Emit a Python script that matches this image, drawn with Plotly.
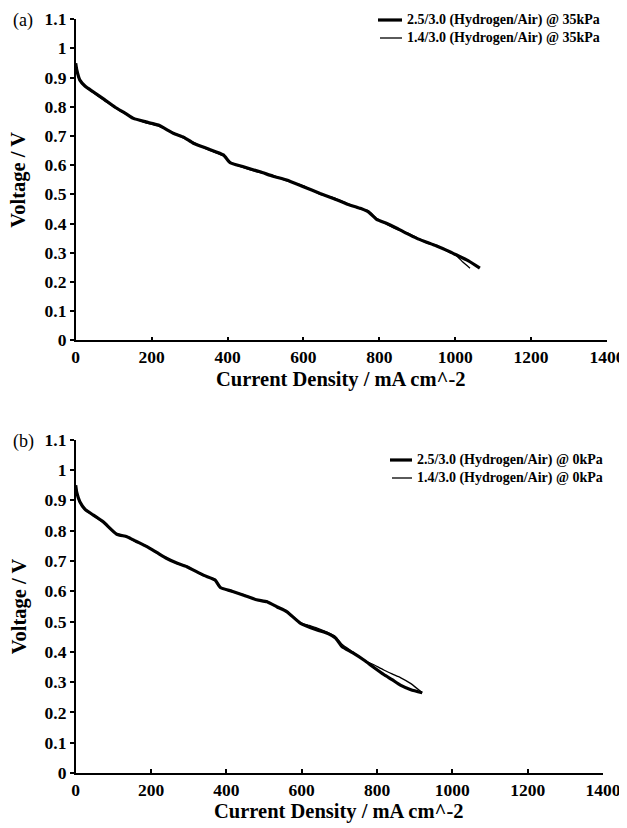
import plotly.graph_objects as go

# ---------------- data ----------------
# Panel (a): 35 kPa back-pressure
a_thick_x = [0, 3, 11, 25, 46, 75, 104, 130, 152, 185, 218, 257, 285, 310, 350, 389, 407, 440, 486, 520,
             556, 600, 644, 679, 714, 750, 771, 793, 820, 846, 872, 899, 925, 951, 978, 1004, 1035, 1065]
a_thick_y = [0.949, 0.925, 0.891, 0.870, 0.851, 0.825, 0.798, 0.778, 0.760, 0.748, 0.737, 0.709, 0.695, 0.675,
             0.655, 0.635, 0.608, 0.595, 0.577, 0.562, 0.549, 0.526, 0.503, 0.486, 0.467, 0.452, 0.440, 0.414,
             0.400, 0.384, 0.366, 0.349, 0.336, 0.323, 0.308, 0.292, 0.272, 0.247]
a_thin_x = [0, 3, 11, 25, 46, 75, 104, 130, 152, 185, 218, 257, 285, 310, 350, 389, 407, 440, 486, 520,
            556, 600, 644, 679, 714, 750, 771, 793, 820, 846, 872, 899, 925, 951, 978, 1004, 1020, 1039]
a_thin_y = [0.946, 0.920, 0.888, 0.868, 0.848, 0.822, 0.796, 0.776, 0.762, 0.745, 0.733, 0.711, 0.692, 0.678,
            0.652, 0.632, 0.611, 0.592, 0.574, 0.565, 0.546, 0.530, 0.500, 0.489, 0.470, 0.449, 0.444, 0.417,
            0.397, 0.380, 0.369, 0.352, 0.333, 0.326, 0.305, 0.289, 0.268, 0.247]

# Panel (b): 0 kPa back-pressure
b_thick_x = [0, 3, 11, 25, 47, 73, 109, 136, 160, 189, 215, 242, 270, 295, 339, 370, 384, 415, 446, 480,
             508, 535, 561, 597, 641, 670, 690, 707, 735, 765, 790, 818, 840, 862, 890, 920]
b_thick_y = [0.950, 0.925, 0.895, 0.870, 0.851, 0.829, 0.788, 0.780, 0.765, 0.747, 0.728, 0.708, 0.692, 0.681,
             0.653, 0.637, 0.612, 0.600, 0.587, 0.572, 0.565, 0.548, 0.532, 0.494, 0.472, 0.460, 0.445, 0.417,
             0.397, 0.373, 0.350, 0.325, 0.308, 0.290, 0.275, 0.265]
b_thin_x = [0, 3, 11, 25, 47, 73, 109, 136, 160, 189, 215, 242, 270, 295, 339, 370, 384, 415, 446, 480,
            508, 535, 561, 597, 620, 641, 670, 690, 707, 735, 765, 790, 818, 840, 862, 890, 920]
b_thin_y = [0.948, 0.922, 0.893, 0.868, 0.849, 0.826, 0.790, 0.778, 0.763, 0.749, 0.726, 0.710, 0.690, 0.683,
            0.651, 0.639, 0.614, 0.598, 0.589, 0.570, 0.567, 0.546, 0.534, 0.496, 0.487, 0.478, 0.463, 0.450,
            0.425, 0.400, 0.373, 0.358, 0.340, 0.327, 0.315, 0.295, 0.265]

a_names = ["2.5/3.0 (Hydrogen/Air) @ 35kPa", "1.4/3.0 (Hydrogen/Air) @ 35kPa"]
b_names = ["2.5/3.0 (Hydrogen/Air) @ 0kPa", "1.4/3.0 (Hydrogen/Air) @ 0kPa"]

x_ticks = [0, 200, 400, 600, 800, 1000, 1200, 1400]
y_ticks = [0, 0.1, 0.2, 0.3, 0.4, 0.5, 0.6, 0.7, 0.8, 0.9, 1.0, 1.1]
y_tick_text = ["0", "0.1", "0.2", "0.3", "0.4", "0.5", "0.6", "0.7", "0.8", "0.9", "1", "1.1"]

x_title = "Current Density / mA cm^-2"
y_title = "Voltage / V"

# ---------------- geometry ----------------
# the page body has an 8px margin, so the figure is drawn 8px in from the top-left corner
OFF = 8
W, H = 627 - OFF, 828 - OFF


def px(xp):
    return (xp - OFF) / W


def py(yp):
    return 1 - (yp - OFF) / H


SERIF = "Liberation Serif, Times New Roman, serif"
tick_font = dict(family=SERIF, size=17.5, color="black")
title_font = dict(family=SERIF, size=20.5, color="black")
leg_font = dict(family=SERIF, size=14, color="black")


def b(t):
    return "<b>" + t + "</b>"


fig = go.Figure()
fig.add_trace(go.Scatter(x=a_thick_x, y=a_thick_y, mode="lines", name=a_names[0], showlegend=False,
                         line=dict(color="black", width=3.2, shape="spline", smoothing=0.5),
                         xaxis="x", yaxis="y"))
fig.add_trace(go.Scatter(x=a_thin_x, y=a_thin_y, mode="lines", name=a_names[1], showlegend=False,
                         line=dict(color="black", width=1.3, shape="spline", smoothing=0.5),
                         xaxis="x", yaxis="y"))
fig.add_trace(go.Scatter(x=b_thick_x, y=b_thick_y, mode="lines", name=b_names[0], showlegend=False,
                         line=dict(color="black", width=3.2, shape="spline", smoothing=0.5),
                         xaxis="x2", yaxis="y2"))
fig.add_trace(go.Scatter(x=b_thin_x, y=b_thin_y, mode="lines", name=b_names[1], showlegend=False,
                         line=dict(color="black", width=1.3, shape="spline", smoothing=0.5),
                         xaxis="x2", yaxis="y2"))

top_xd = [px(75.7), px(607)]
top_yd = [py(340.3), py(19.1)]
bot_xd = [px(75.7), px(603)]
bot_yd = [py(773), py(439.7)]


def xaxis(domain, anchor, labels=True):
    # labelled axis carries the inner tick halves so its labels sit close to the line
    return dict(domain=domain, anchor=anchor, range=[0, 1400], tickvals=x_ticks,
                ticktext=[b(str(v)) for v in x_ticks],
                showline=labels, linecolor="black", linewidth=1.5, showgrid=False, zeroline=False,
                ticks="inside" if labels else "outside", ticklen=4, tickwidth=1.5, tickcolor="black",
                showticklabels=labels, tickfont=tick_font,
                automargin=False, fixedrange=True)


def yaxis(domain, anchor, labels=True):
    return dict(domain=domain, anchor=anchor, range=[0, 1.1], tickvals=y_ticks,
                ticktext=[b(t) for t in y_tick_text],
                showline=labels, linecolor="black", linewidth=1.5, showgrid=False, zeroline=False,
                ticks="outside" if labels else "inside", ticklen=4, tickwidth=1.5, tickcolor="black",
                showticklabels=labels, tickfont=tick_font, automargin=False, fixedrange=True)


# legend drawn as short line samples + text (paper coordinates)
legend_rows = [
    (a_names[0], 20, 378, 3.2, 405),
    (a_names[1], 38, 380, 1.3, 405),
    (b_names[0], 460, 390, 3.2, 415),
    (b_names[1], 478, 392, 1.3, 415),
]
shapes = []
annotations = []
for name, yrow, xs, lw, xt in legend_rows:
    shapes.append(dict(type="line", xref="paper", yref="paper", x0=px(xs), x1=px(xt - 3),
                       y0=py(yrow), y1=py(yrow), line=dict(color="black", width=lw)))
    annotations.append(dict(text=b(name), x=px(xt), y=py(yrow), xref="paper", yref="paper",
                            xanchor="left", yanchor="middle", showarrow=False, font=leg_font))

# axis titles and panel labels
for xd, yd, xt_y, lab, lab_y in [(top_xd, top_yd, 380, "(a)", 20), (bot_xd, bot_yd, 811, "(b)", 441)]:
    annotations.append(dict(text=b(x_title), x=(xd[0] + xd[1]) / 2, y=py(xt_y), xref="paper",
                            yref="paper", xanchor="center", yanchor="middle", showarrow=False,
                            font=title_font))
    annotations.append(dict(text=b(y_title), x=px(19), y=(yd[0] + yd[1]) / 2, xref="paper",
                            yref="paper", xanchor="center", yanchor="middle", showarrow=False,
                            textangle=-90, font=title_font))
    annotations.append(dict(text=lab, x=px(11), y=py(lab_y), xref="paper", yref="paper",
                            xanchor="left", yanchor="middle", showarrow=False,
                            font=dict(family=SERIF, size=18, color="black")))

fig.update_layout(
    width=W, height=H,
    margin=dict(l=0, r=0, t=0, b=0),
    paper_bgcolor="white", plot_bgcolor="white",
    showlegend=False,
    xaxis=xaxis(top_xd, "y"),
    yaxis=yaxis(top_yd, "x"),
    xaxis2=xaxis(bot_xd, "y2"),
    yaxis2=yaxis(bot_yd, "x2"),
    # other halves of the crossing tick marks
    xaxis3=dict(xaxis(top_xd, "y", labels=False), overlaying="x", matches="x"),
    yaxis3=dict(yaxis(top_yd, "x", labels=False), overlaying="y", matches="y"),
    xaxis4=dict(xaxis(bot_xd, "y2", labels=False), overlaying="x2", matches="x2"),
    yaxis4=dict(yaxis(bot_yd, "x2", labels=False), overlaying="y2", matches="y2"),
    shapes=shapes,
    annotations=annotations,
)

fig.write_html("out.html")
